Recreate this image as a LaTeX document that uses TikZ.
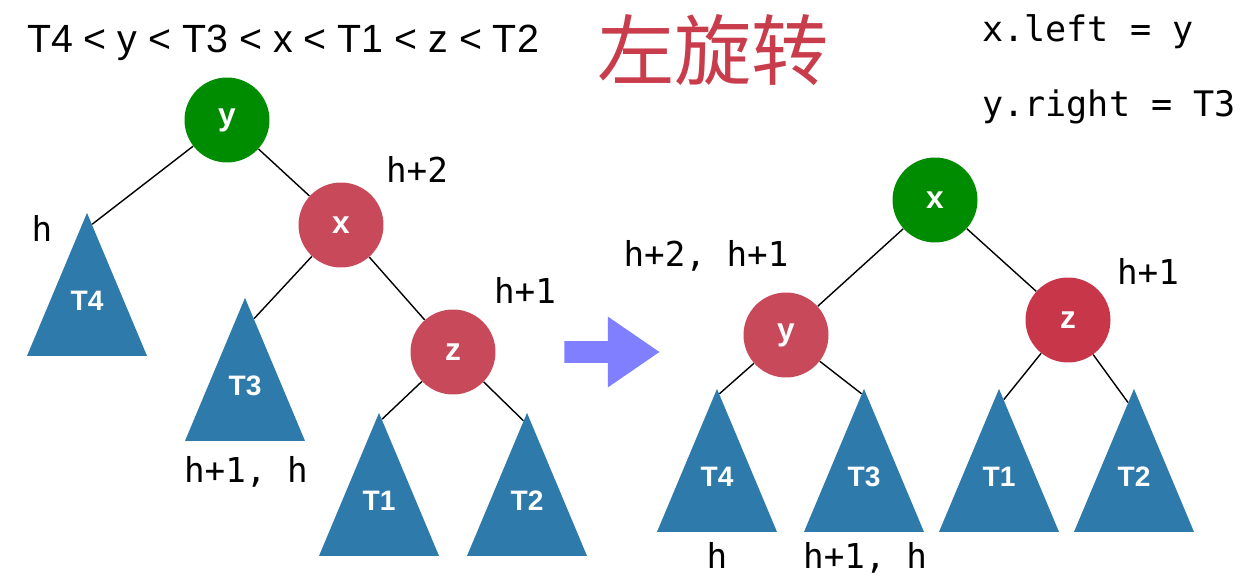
\documentclass[tikz,border=0pt]{standalone}
\usepackage{fontspec}
\setmainfont{Liberation Sans}
\setmonofont{DejaVu Sans Mono}
\newfontfamily\cjkfont{Noto Sans CJK SC}
\usetikzlibrary{shapes.geometric, shapes.arrows, calc}
\definecolor{keygreen}{HTML}{008C00}
\definecolor{keyred}{HTML}{C84A5A}
\definecolor{keyreddark}{HTML}{C8364A}
\definecolor{subtreeblue}{HTML}{2E7BAB}
\definecolor{arrowblue}{HTML}{7F7FFF}
\definecolor{titlered}{HTML}{C83C4C}

\begin{document}
\begin{tikzpicture}[
    x=0.02cm, y=-0.02cm,
    keynode/.style={circle, minimum size=1.7cm, inner sep=0pt,
      text=white, font=\bfseries\fontsize{18}{20}\selectfont},
    subtree/.style={isosceles triangle, isosceles triangle stretches,
      shape border rotate=90, minimum width=2.4cm, minimum height=2.86cm,
      inner sep=0pt, fill=subtreeblue, anchor=apex},
    treename/.style={text=white, font=\bfseries\fontsize{16}{18}\selectfont},
    hlabel/.style={anchor=base, font=\ttfamily\fontsize{19.5}{22}\selectfont},
    code/.style={anchor=base west, font=\ttfamily\fontsize{20}{24}\selectfont},
    link/.style={line width=0.8pt}
  ]
  \useasboundingbox (0,0) rectangle (1254,587);

  % headings
  \node[anchor=base, font=\fontsize{22.4}{26}\selectfont] (order) at (283,53)
    {T4 < y < T3 < x < T1 < z < T2};
  \node[text=titlered, font=\cjkfont\fontsize{44}{48}\selectfont] (title)
    at (713,50) {左旋转};
  \node[code] (xleft) at (976,42) {x.left = y};
  \node[code] (yright) at (976,117) {y.right = T3};

  % tree before the rotation
  \node[keynode, fill=keygreen] (ly) at (227,120) {y};
  \node[keynode, fill=keyred] (lx) at (341,225) {x};
  \node[keynode, fill=keyred] (lz) at (453,352) {z};
  \node[subtree] (lT4) at (87,212) {};
  \node[subtree] (lT3) at (245,297) {};
  \node[subtree] (lT1) at (379,412) {};
  \node[subtree] (lT2) at (527,412) {};
  \node[treename] (lT4name) at ($(lT4.apex)+(0,89)$) {T4};
  \node[treename] (lT3name) at ($(lT3.apex)+(0,89)$) {T3};
  \node[treename] (lT1name) at ($(lT1.apex)+(0,89)$) {T1};
  \node[treename] (lT2name) at ($(lT2.apex)+(0,89)$) {T2};
  \draw[link] (ly) -- ($(lT4.apex)!0.085!(lT4.right corner)$);
  \draw[link] (ly) -- (lx);
  \draw[link] (lx) -- ($(lT3.apex)!0.15!(lT3.right corner)$);
  \draw[link] (lx) -- (lz);
  \draw[link] (lz) -- ($(lT1.apex)!0.05!(lT1.right corner)$);
  \draw[link] (lz) -- ($(lT2.apex)!0.06!(lT2.left corner)$);
  \node[hlabel] (lhT4) at (42,242) {h};
  \node[hlabel] (lhx) at (417,183) {h+2};
  \node[hlabel] (lhz) at (525,304) {h+1};
  \node[hlabel] (lhT3) at (246,482) {h+1, h};

  \node[single arrow, fill=arrowblue, minimum height=1.9cm,
    inner xsep=0pt, inner ysep=0.21cm, single arrow head extend=0.49cm,
    single arrow tip angle=69, anchor=tip] (turn) at (660,352) {};

  % tree after the rotation
  \node[keynode, fill=keygreen] (rx) at (935,200) {x};
  \node[keynode, fill=keyred] (ry) at (786,335) {y};
  \node[keynode, fill=keyreddark] (rz) at (1068,320) {z};
  \node[subtree] (rT4) at (717,388) {};
  \node[subtree] (rT3) at (864,388) {};
  \node[subtree] (rT1) at (999,388) {};
  \node[subtree] (rT2) at (1134,388) {};
  \node[treename] (rT4name) at ($(rT4.apex)+(0,89)$) {T4};
  \node[treename] (rT3name) at ($(rT3.apex)+(0,89)$) {T3};
  \node[treename] (rT1name) at ($(rT1.apex)+(0,89)$) {T1};
  \node[treename] (rT2name) at ($(rT2.apex)+(0,89)$) {T2};
  \draw[link] (rx) -- (ry);
  \draw[link] (rx) -- (rz);
  \draw[link] (ry) -- ($(rT4.apex)!0.04!(rT4.right corner)$);
  \draw[link] (ry) -- ($(rT3.apex)!0.04!(rT3.left corner)$);
  \draw[link] (rz) -- ($(rT1.apex)!0.08!(rT1.right corner)$);
  \draw[link] (rz) -- ($(rT2.apex)!0.1!(rT2.left corner)$);
  \node[hlabel] (rhy) at (706,267) {h+2, h+1};
  \node[hlabel] (rhz) at (1148,285) {h+1};
  \node[hlabel] (rhT4) at (717,568) {h};
  \node[hlabel] (rhT3) at (865,568) {h+1, h};
\end{tikzpicture}
\end{document}
